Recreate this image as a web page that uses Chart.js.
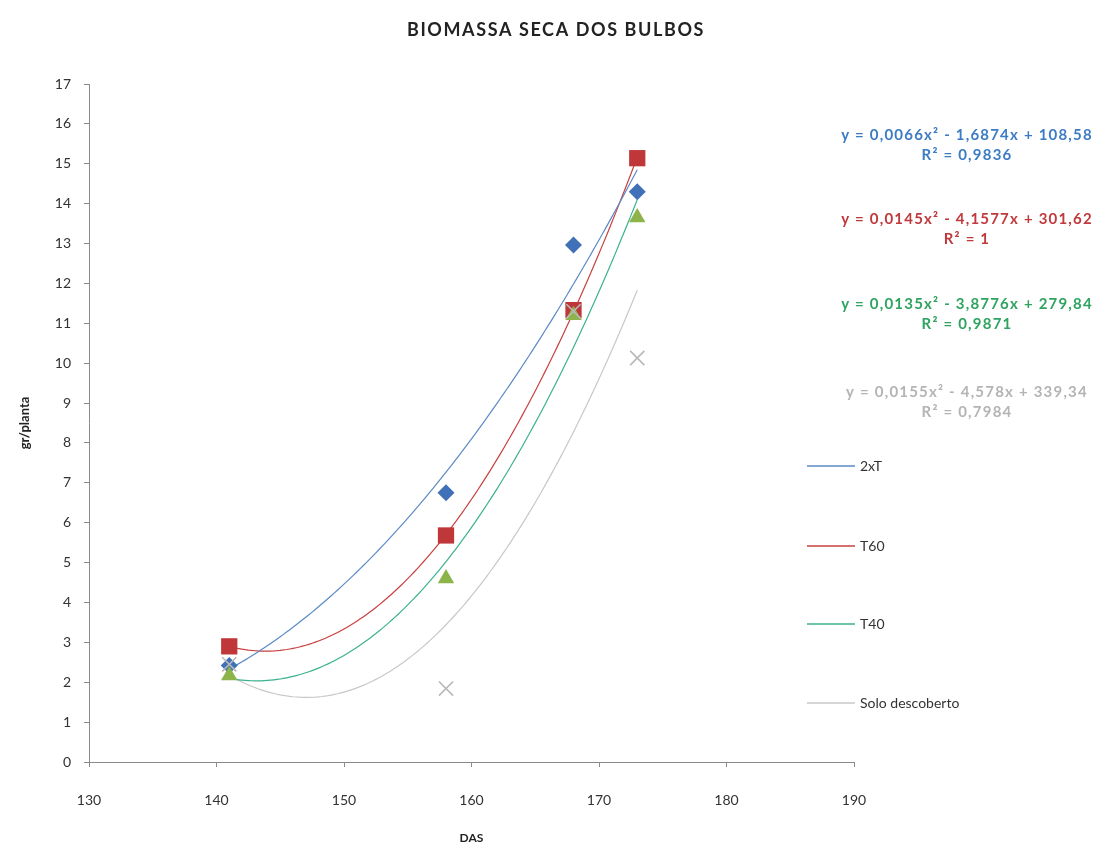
<!DOCTYPE html>
<html>
<head>
<meta charset="utf-8">
<title>Biomassa seca dos bulbos</title>
<script src="https://cdn.jsdelivr.net/npm/chart.js@4.4.1/dist/chart.umd.min.js"></script>
<style>
html, body { margin: 0; padding: 0; background: #fff; }
#wrap { width: 1102px; height: 846px; }
</style>
</head>
<body>
<div id="wrap"><canvas id="chart" width="1102" height="846"></canvas></div>
<script>
// dias apos semeadura
const das = [141, 158, 168, 173];

// biomassa seca (gr/planta) por tratamento
const t2x = [2.42, 6.75, 12.96, 14.30];
const t60 = [2.90, 5.68, 11.33, 15.14];
const t40 = [2.17, 4.60, 11.20, 13.65];
const solo = [2.45, 1.84, 11.30, 10.13];

const seriesNames = ["2xT", "T60", "T40", "Solo descoberto"];

// equacoes mostradas no grafico (texto)
const equations = [
  "y = 0,0066x² - 1,6874x + 108,58",
  "y = 0,0145x² - 4,1577x + 301,62",
  "y = 0,0135x² - 3,8776x + 279,84",
  "y = 0,0155x² - 4,578x + 339,34"
];
const r2Labels = ["R² = 0,9836", "R² = 1", "R² = 0,9871", "R² = 0,7984"];

const chartTitle = "BIOMASSA SECA DOS BULBOS";
const xTicks = [130, 190, 10];
const yTicks = [0, 17, 1];

const markerColors = ["#4070b8", "#c0373a", "#8db44a", "#b8b8b8"];
const lineColors = ["#5b8ac6", "#c8403f", "#3bb18f", "#c8c8c8"];
const textColors = ["#3d7cc4", "#c0393c", "#2fa360", "#b4b4b4"];
const markerStyles = ["rectRot", "rect", "triangle", "crossRot"];
const markerSizes = [8.5, 11.5, 9.5, 10];

const FONT = "Lato, 'Open Sans', sans-serif";

// ajuste polinomial de 2a ordem (minimos quadrados), como a linha de tendencia do Excel
function quadFit(xs, ys){
  let m = xs.reduce((a,b)=>a+b,0)/xs.length;
  let s = [0,0,0,0,0], t = [0,0,0];
  for(let i=0;i<xs.length;i++){
    let u = xs[i]-m;
    for(let k=0;k<5;k++) s[k] += Math.pow(u,k);
    for(let k=0;k<3;k++) t[k] += ys[i]*Math.pow(u,k);
  }
  let A = [[s[0],s[1],s[2]],[s[1],s[2],s[3]],[s[2],s[3],s[4]]];
  let det = M => M[0][0]*(M[1][1]*M[2][2]-M[1][2]*M[2][1]) - M[0][1]*(M[1][0]*M[2][2]-M[1][2]*M[2][0]) + M[0][2]*(M[1][0]*M[2][1]-M[1][1]*M[2][0]);
  let D = det(A);
  let c = [0,1,2].map(j => {
    let B = A.map((row,r) => row.map((v,col) => col===j ? t[r] : v));
    return det(B)/D;
  });
  return x => c[0] + c[1]*(x-m) + c[2]*(x-m)*(x-m);
}

function trendPoints(ys){
  let f = quadFit(das, ys);
  let pts = [];
  for(let x=das[0]; x<=das[das.length-1]+0.001; x+=0.25){
    pts.push({x: x, y: f(x)});
  }
  return pts;
}

const allSeries = [t2x, t60, t40, solo];

let datasets = [];
allSeries.forEach((ys, i) => {
  datasets.push({
    label: seriesNames[i],
    isTrend: true,
    data: trendPoints(ys),
    showLine: true,
    borderColor: lineColors[i],
    borderWidth: 1.2,
    pointRadius: 0,
    pointHoverRadius: 0,
    tension: 0,
    order: 10 + i
  });
});
allSeries.forEach((ys, i) => {
  datasets.push({
    label: seriesNames[i] + " (dados)",
    data: das.map((x, k) => ({x: x, y: ys[k]})),
    showLine: false,
    pointStyle: markerStyles[i],
    pointRadius: markerSizes[i],
    pointHoverRadius: markerSizes[i],
    backgroundColor: markerColors[i],
    borderColor: i === 3 ? markerColors[i] : "rgba(0,0,0,0)",
    pointBorderWidth: i === 3 ? 1.6 : 0,
    order: 4 - i
  });
});

// titulo, legenda e equacoes posicionados como no original
const overlay = {
  id: "overlay",
  afterDraw(chart){
    const ctx = chart.ctx;
    ctx.save();
    ctx.textBaseline = "middle";

    ctx.font = "bold 18px " + FONT;
    ctx.letterSpacing = "1.6px";
    ctx.fillStyle = "#222";
    ctx.textAlign = "center";
    ctx.fillText(chartTitle, 556, 30);

    ctx.letterSpacing = "0px";
    ctx.font = "14px " + FONT;
    const legY = [466, 546, 624, 703];
    chart.data.datasets.filter(d => d.isTrend).forEach((d, i) => {
      ctx.strokeStyle = d.borderColor;
      ctx.lineWidth = 1.3;
      ctx.beginPath();
      ctx.moveTo(807, legY[i]);
      ctx.lineTo(855, legY[i]);
      ctx.stroke();
      ctx.fillStyle = "#333";
      ctx.textAlign = "left";
      ctx.fillText(d.label, 860, legY[i]);
    });

    ctx.font = "bold 15px " + FONT;
    ctx.letterSpacing = "1.2px";
    const eqY = [135, 219, 304, 392];
    equations.forEach((eq, i) => {
      ctx.fillStyle = textColors[i];
      ctx.textAlign = "center";
      ctx.fillText(eq, 967, eqY[i]);
      ctx.fillText(r2Labels[i], 967, eqY[i] + 20);
    });
    ctx.restore();
  }
};

new Chart(document.getElementById("chart"), {
  type: "scatter",
  data: { datasets: datasets },
  options: {
    responsive: false,
    animation: false,
    layout: { padding: { top: 84, right: 248, bottom: 0, left: 0 } },
    plugins: {
      legend: { display: false },
      tooltip: { enabled: false },
      title: { display: false }
    },
    scales: {
      x: {
        type: "linear",
        min: xTicks[0], max: xTicks[1],
        afterFit(scale){ scale.height = 84; },
        ticks: { stepSize: xTicks[2], padding: 25, color: "#333", font: { family: FONT, size: 14 } },
        grid: { drawOnChartArea: false, drawTicks: true, tickLength: 5, color: "#8a8a8a" },
        border: { color: "#8a8a8a", width: 1 },
        title: { display: true, text: "DAS", color: "#222", font: { family: FONT, size: 12, weight: "bold" }, padding: { top: 0, bottom: 1 } }
      },
      y: {
        min: yTicks[0], max: yTicks[1],
        afterFit(scale){ scale.width = 89; },
        ticks: { stepSize: yTicks[2], padding: 13, color: "#333", font: { family: FONT, size: 14 } },
        grid: { drawOnChartArea: false, drawTicks: true, tickLength: 5, color: "#8a8a8a" },
        border: { color: "#8a8a8a", width: 1 },
        title: { display: true, text: "gr/planta", color: "#222", font: { family: FONT, size: 13, weight: "bold" }, padding: { top: 17, bottom: 0 } }
      }
    }
  },
  plugins: [overlay]
});
</script>
</body>
</html>
